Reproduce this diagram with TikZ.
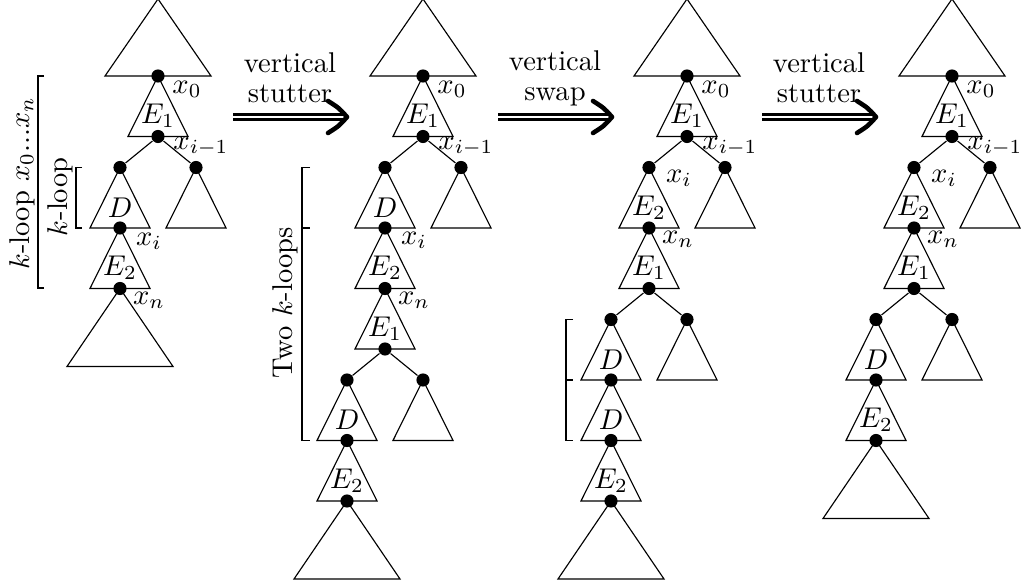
\documentclass[tikz,border=0pt]{standalone}
\usetikzlibrary{calc}
\tikzset{
  dot/.style={circle, fill=black, inner sep=0pt, minimum size=4.6pt},
  tri/.style={line width=0.4pt, line join=miter},
  lab/.style={inner sep=0pt},
  brk/.style={line width=0.45pt},
  shaft/.style={line width=1pt, double distance=0.75pt},
  head/.style={line width=1.6pt, line cap=round, line join=round},
  steplab/.style={align=center, inner sep=0pt},
}
\newcommand\smtri[4]{%
  \draw[tri] ({#1-30},{#2+60.5}) -- (#1,#2) -- ({#1+30},{#2+60.5}) -- cycle;
  \node[lab] at (#1,{#2+40}) {#3};
  \node[dot] (#4) at (#1,{#2+60.5}) {};
}
\newcommand\emptri[2]{%
  \draw[tri] ({#1-30},{#2+60.5}) -- (#1,#2) -- ({#1+30},{#2+60.5}) -- cycle;
}
\newcommand\bigtri[2]{%
  \draw[tri] ({#1-53},{#2+78}) -- (#1,#2) -- ({#1+53},{#2+78}) -- cycle;
}
\newcommand\toptri[2]{%
  \draw[tri] ({#1-53},76) -- (#1,-1) -- ({#1+53},76) -- cycle;
  \node[dot] (#2) at (#1,76) {};
}
\newcommand\bigarrow[3]{% start x, end x, name
  \coordinate (#3s) at (#1,117);
  \coordinate (#3e) at (#2,117);
  \coordinate (#3h) at ({#2-3},117);
  \draw[shaft] (#3s) -- (#3h);
  \draw[head] ($(#3e)+(-19,-16)$) .. controls ($(#3e)+(-8,-9)$) .. (#3e)
              .. controls ($(#3e)+(-8,9)$) .. ($(#3e)+(-19,16)$);
}
\begin{document}
\begin{tikzpicture}[x={(0.35pt,0)}, y={(0,-0.35pt)}]
\useasboundingbox (0,0) rectangle (1021,582);

% ---------- tree 1 ----------
\toptri{158}{t1a}
\smtri{158}{76}{$E_1$}{t1b}
\node[dot] (t1l) at (120,167.5) {};
\node[dot] (t1r) at (196,167.5) {};
\draw (t1b) -- (t1l);
\draw (t1b) -- (t1r);
\smtri{120}{167.5}{$D$}{t1c}
\emptri{196}{167.5}
\smtri{120}{228}{$E_2$}{t1d}
\bigtri{120}{288.5}
\node[lab] at ($(t1a)+(29,13)$) {$x_0$};
\node[lab] at ($(t1b)+(43,10)$) {$x_{i-1}$};
\node[lab] at ($(t1c)+(29,13)$) {$x_i$};
\node[lab] at ($(t1d)+(29,12)$) {$x_n$};
% brackets tree 1
\coordinate (b1t) at (38,76);
\coordinate (b1b) at (38,288);
\draw[brk] ($(b1t)+(6,0)$) -- (b1t) -- (b1b) -- ($(b1b)+(6,0)$);
\node[rotate=90] (b1l) at (22,183) {$k$-loop $x_0...x_n$};
\coordinate (b2t) at (76,167.5);
\coordinate (b2b) at (76,228);
\draw[brk] ($(b2t)+(6,0)$) -- (b2t) -- (b2b) -- ($(b2b)+(6,0)$);
\node[rotate=90] (b2l) at (60,197) {$k$-loop};

% ---------- arrow 1 ----------
\bigarrow{233}{347}{ar1}
\node[steplab] (s1) at (290,78) {vertical\\[-1.5pt]stutter};

% ---------- tree 2 ----------
\toptri{423}{t2a}
\smtri{423}{76}{$E_1$}{t2b}
\node[dot] (t2l) at (385,167.5) {};
\node[dot] (t2r) at (461,167.5) {};
\draw (t2b) -- (t2l);
\draw (t2b) -- (t2r);
\smtri{385}{167.5}{$D$}{t2c}
\emptri{461}{167.5}
\smtri{385}{228}{$E_2$}{t2d}
\smtri{385}{288.5}{$E_1$}{t2e}
\node[dot] (t2ll) at (347,380) {};
\node[dot] (t2lr) at (423,380) {};
\draw (t2e) -- (t2ll);
\draw (t2e) -- (t2lr);
\smtri{347}{380}{$D$}{t2f}
\emptri{423}{380}
\smtri{347}{440.5}{$E_2$}{t2g}
\bigtri{347}{501}
\node[lab] at ($(t2a)+(29,13)$) {$x_0$};
\node[lab] at ($(t2b)+(43,10)$) {$x_{i-1}$};
\node[lab] at ($(t2c)+(29,12)$) {$x_i$};
\node[lab] at ($(t2d)+(29,12)$) {$x_n$};
\coordinate (b3t) at (302,167.5);
\coordinate (b3m) at (302,228);
\coordinate (b3b) at (302,440.5);
\draw[brk] ($(b3t)+(8,0)$) -- (b3t) -- (b3b) -- ($(b3b)+(8,0)$);
\draw[brk] (b3m) -- ($(b3m)+(8,0)$);
\node[rotate=90] (b3l) at (285,303) {Two $k$-loops};

% ---------- arrow 2 ----------
\bigarrow{498}{612}{ar2}
\node[steplab] (s2) at (555,78) {vertical\\[-1.5pt]swap};

% ---------- tree 3 ----------
\toptri{687}{t3a}
\smtri{687}{76}{$E_1$}{t3b}
\node[dot] (t3l) at (649,167.5) {};
\node[dot] (t3r) at (725,167.5) {};
\draw (t3b) -- (t3l);
\draw (t3b) -- (t3r);
\smtri{649}{167.5}{$E_2$}{t3c}
\emptri{725}{167.5}
\smtri{649}{228}{$E_1$}{t3d}
\node[dot] (t3ll) at (611,319.5) {};
\node[dot] (t3lr) at (687,319.5) {};
\draw (t3d) -- (t3ll);
\draw (t3d) -- (t3lr);
\smtri{611}{319.5}{$D$}{t3e}
\emptri{687}{319.5}
\smtri{611}{380}{$D$}{t3f}
\smtri{611}{440.5}{$E_2$}{t3g}
\bigtri{611}{501}
\node[lab] at ($(t3a)+(29,13)$) {$x_0$};
\node[lab] at ($(t3b)+(43,10)$) {$x_{i-1}$};
\node[lab] at ($(t3l)+(30,11)$) {$x_i$};
\node[lab] at ($(t3c)+(29,11)$) {$x_n$};
\coordinate (b4t) at (566,319.5);
\coordinate (b4m) at (566,380);
\coordinate (b4b) at (566,440.5);
\draw[brk] ($(b4t)+(7,0)$) -- (b4t) -- (b4b) -- ($(b4b)+(7,0)$);
\draw[brk] (b4m) -- ($(b4m)+(7,0)$);

% ---------- arrow 3 ----------
\bigarrow{762}{876}{ar3}
\node[steplab] (s3) at (819,78) {vertical\\[-1.5pt]stutter};

% ---------- tree 4 ----------
\toptri{952}{t4a}
\smtri{952}{76}{$E_1$}{t4b}
\node[dot] (t4l) at (914,167.5) {};
\node[dot] (t4r) at (990,167.5) {};
\draw (t4b) -- (t4l);
\draw (t4b) -- (t4r);
\smtri{914}{167.5}{$E_2$}{t4c}
\emptri{990}{167.5}
\smtri{914}{228}{$E_1$}{t4d}
\node[dot] (t4ll) at (876,319.5) {};
\node[dot] (t4lr) at (952,319.5) {};
\draw (t4d) -- (t4ll);
\draw (t4d) -- (t4lr);
\smtri{876}{319.5}{$D$}{t4e}
\emptri{952}{319.5}
\smtri{876}{380}{$E_2$}{t4f}
\bigtri{876}{440.5}
\node[lab] at ($(t4a)+(29,13)$) {$x_0$};
\node[lab] at ($(t4b)+(43,10)$) {$x_{i-1}$};
\node[lab] at ($(t4l)+(30,11)$) {$x_i$};
\node[lab] at ($(t4c)+(29,11)$) {$x_n$};
\end{tikzpicture}
\end{document}
